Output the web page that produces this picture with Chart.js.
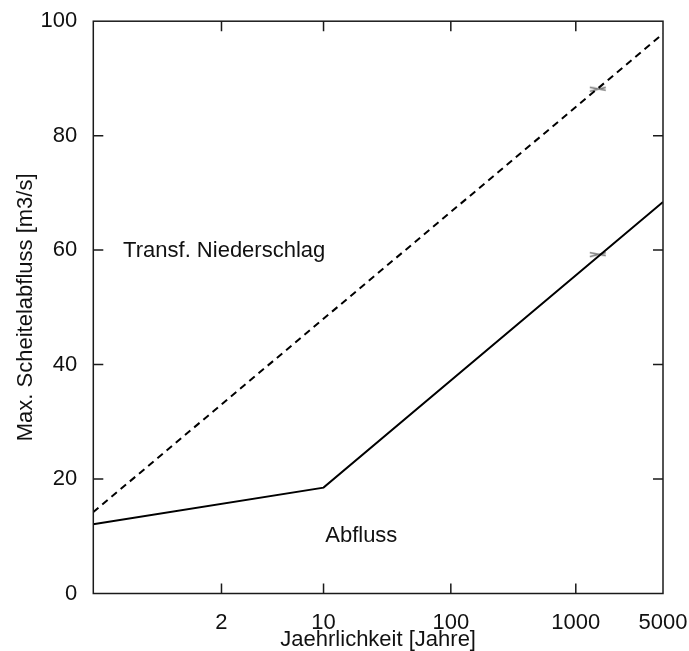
<!DOCTYPE html>
<html>
<head>
<meta charset="utf-8">
<script src="https://cdn.jsdelivr.net/npm/chart.js@4/dist/chart.umd.min.js"></script>
<style>
  html, body { margin: 0; padding: 0; background: #fff; }
  #wrap { width: 689px; height: 651px; }
</style>
</head>
<body>
<div id="wrap"><canvas id="c" width="689" height="651"></canvas></div>
<script>
// ---- data (return periods in years, values in m3/s) ----
const tickYears = [2, 10, 100, 1000, 5000];
const tickLabels = ['2', '10', '100', '1000', '5000'];
const yTickValues = [0, 20, 40, 60, 80, 100];

const abflussYears = [1.0006, 10, 5000];
const abflussValues = [12.1, 18.5, 68.4];

const niederschlagYears = [1.0006, 5000];
const niederschlagValues = [14.2, 97.8];

const markerYears = [1500];
const abflussMarker = [59.3];
const niederschlagMarker = [88.2];

const seriesNames = ['Abfluss', 'Transf. Niederschlag'];
const labelYears = [10.3, 1.0143];
const labelValues = [9.05, 58.8];

// Gumbel reduced variate used for the x axis
function gumbel(T) { return -Math.log(-Math.log(1 - 1 / T)); }
function pts(years, vals) { return years.map((t, i) => ({ x: gumbel(t), y: vals[i] })); }

const FONT = "'Liberation Sans', Arial, Helvetica, sans-serif";
const FS = 22;
const TXT = '#111';

// flattened cross marker
const marker = document.createElement('canvas');
marker.width = 18; marker.height = 8;
(function () {
  const m = marker.getContext('2d');
  m.strokeStyle = '#7a7a7a';
  m.lineWidth = 1.3;
  m.beginPath();
  m.moveTo(1, 6.5); m.lineTo(17, 2.5);
  m.moveTo(1, 2.5); m.lineTo(17, 5.5);
  m.stroke();
})();

const framePlugin = {
  id: 'frame',
  afterDatasetsDraw(chart) {
    const { ctx, chartArea: a, scales: { x, y } } = chart;
    ctx.save();
    ctx.strokeStyle = '#1a1a1a';
    ctx.lineWidth = 1.5;
    ctx.strokeRect(a.left, a.top, a.right - a.left, a.bottom - a.top);
    const L = 10;
    ctx.beginPath();
    tickYears.forEach(t => {
      const px = x.getPixelForValue(gumbel(t));
      if (px > a.left + 1 && px < a.right - 1) {
        ctx.moveTo(px, a.bottom); ctx.lineTo(px, a.bottom - L);
        ctx.moveTo(px, a.top); ctx.lineTo(px, a.top + L);
      }
    });
    yTickValues.forEach(v => {
      const py = y.getPixelForValue(v);
      if (py > a.top + 1 && py < a.bottom - 1) {
        ctx.moveTo(a.left, py); ctx.lineTo(a.left + L, py);
        ctx.moveTo(a.right, py); ctx.lineTo(a.right - L, py);
      }
    });
    ctx.stroke();
    // series labels
    ctx.fillStyle = TXT;
    ctx.font = FS + 'px ' + FONT;
    ctx.textBaseline = 'alphabetic';
    ctx.textAlign = 'left';
    seriesNames.forEach((name, i) => {
      ctx.fillText(name, x.getPixelForValue(gumbel(labelYears[i])), y.getPixelForValue(labelValues[i]));
    });
    ctx.restore();
  }
};

new Chart(document.getElementById('c'), {
  type: 'scatter',
  data: {
    datasets: [
      {
        label: seriesNames[0],
        data: pts(abflussYears, abflussValues),
        showLine: true, borderColor: '#000', borderWidth: 2, pointRadius: 0, fill: false
      },
      {
        label: seriesNames[1],
        data: pts(niederschlagYears, niederschlagValues),
        showLine: true, borderColor: '#000', borderWidth: 2, borderDash: [7, 5], pointRadius: 0, fill: false
      },
      {
        label: 'marker1',
        data: pts(markerYears, abflussMarker),
        pointStyle: marker, pointRadius: 8, showLine: false
      },
      {
        label: 'marker2',
        data: pts(markerYears, niederschlagMarker),
        pointStyle: marker, pointRadius: 8, showLine: false
      }
    ]
  },
  options: {
    responsive: false,
    animation: false,
    devicePixelRatio: 1,
    layout: { padding: { left: 0, top: 21, right: 26, bottom: 0 } },
    plugins: { legend: { display: false }, tooltip: { enabled: false } },
    scales: {
      x: {
        type: 'linear',
        min: -2,
        max: gumbel(5000),
        grid: { display: false },
        border: { display: false },
        afterBuildTicks: s => { s.ticks = tickYears.map(t => ({ value: gumbel(t) })); },
        afterFit: s => { s.height = 57.5; s.paddingLeft = 0; s.paddingRight = 0; },
        ticks: {
          autoSkip: false, maxRotation: 0, padding: 8,
          color: TXT, font: { family: FONT, size: FS, lineHeight: 1.2 },
          callback: (v, i) => tickLabels[i]
        },
        title: {
          display: true, text: 'Jaehrlichkeit [Jahre]', color: TXT,
          font: { family: FONT, size: FS, lineHeight: 1 }, padding: { top: 0, bottom: 0.5 }
        }
      },
      y: {
        min: 0, max: 100,
        grid: { display: false },
        border: { display: false },
        afterBuildTicks: s => { s.ticks = yTickValues.map(v => ({ value: v })); },
        afterFit: s => { s.width = 93.3; },
        ticks: { padding: 8, color: TXT, font: { family: FONT, size: FS } },
        title: {
          display: true, text: 'Max. Scheitelabfluss [m3/s]', color: TXT,
          font: { family: FONT, size: FS, lineHeight: 1.2 }, padding: { top: 12.5, bottom: 0 }
        }
      }
    }
  },
  plugins: [framePlugin]
});
</script>
</body>
</html>
